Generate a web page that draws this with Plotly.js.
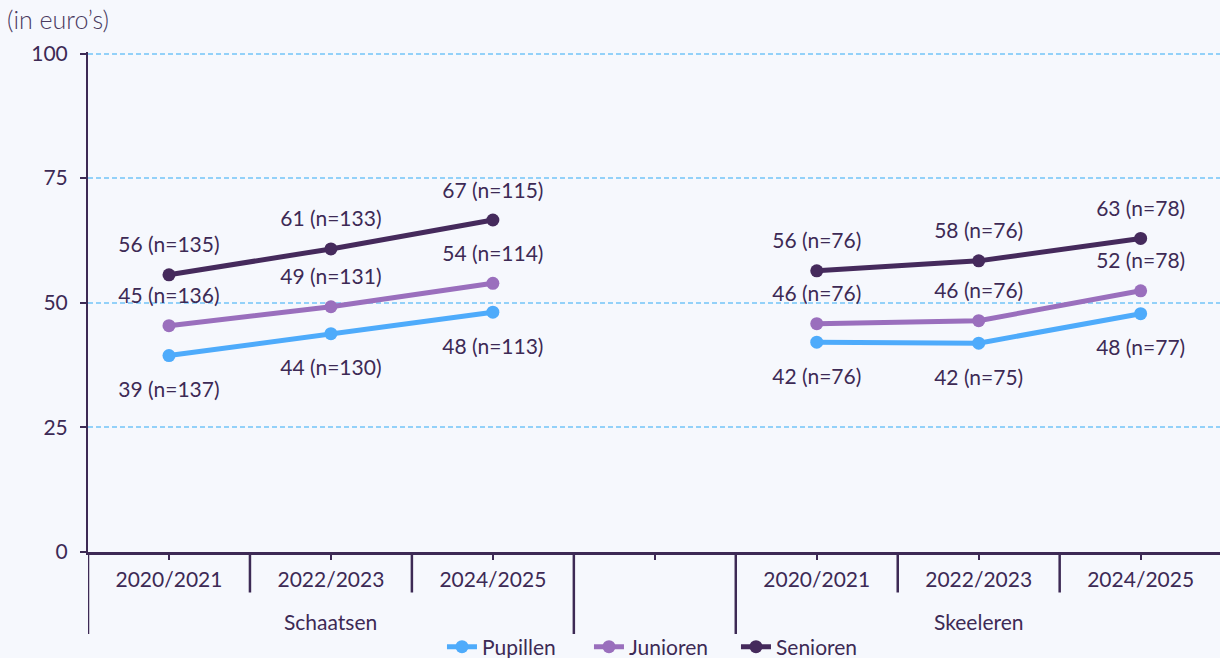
<!DOCTYPE html>
<html><head><meta charset="utf-8">
<script src="https://cdn.plot.ly/plotly-3.0.1.min.js"></script>
<style>html,body{margin:0;padding:0;background:#f6f8fd;}#chart{width:1220px;height:658px;}</style>
</head><body><div id="chart"></div>
<script>
// ---- data ----
const sports = ['Schaatsen', 'Skeeleren'];
const seasons = ['2020/2021', '2022/2023', '2024/2025'];
const gapLabel = ' ';
const seriesNames = ['Pupillen', 'Junioren', 'Senioren'];
const pupillenValues = [39.4, 43.8, 48.1, 42.1, 41.9, 47.8];
const juniorenValues = [45.4, 49.2, 53.9, 45.8, 46.4, 52.4];
const seniorenValues = [55.6, 60.8, 66.6, 56.4, 58.4, 62.9];
const pupillenN = [137, 130, 113, 76, 75, 77];
const juniorenN = [136, 131, 114, 76, 76, 78];
const seniorenN = [135, 133, 115, 76, 76, 78];
const seriesColors = ['#4eabfb', '#9a6fbd', '#452a5c'];
const yTicks = [0, 25, 50, 75, 100];

// ---- build ----
const keys = [], tickTexts = [], groupCentres = [], innerBounds = [], outerBounds = [-0.5];
sports.forEach((s, i) => {
  if (i > 0) { keys.push('gap'); tickTexts.push(gapLabel); outerBounds.push(keys.length - 0.5); }
  const first = keys.length;
  seasons.forEach((se, j) => {
    keys.push(s + '|' + se); tickTexts.push(se);
    if (j > 0) innerBounds.push(keys.length - 1.5);
  });
  groupCentres.push({name: s, pos: (first + keys.length - 1) / 2});
  outerBounds.push(keys.length - 0.5);
});
function withGap(arr) { const a = arr.slice(0, 3); a.push(null); return a.concat(arr.slice(3)); }
const allValues = [pupillenValues, juniorenValues, seniorenValues];
const allN = [pupillenN, juniorenN, seniorenN];
const textColor = '#3d2a55';
const font = 'Lato, "Open Sans", sans-serif';
const fs = 21;

const traces = [];
allValues.forEach((vals, k) => {
  traces.push({
    type: 'scatter', mode: 'lines+markers', name: seriesNames[k],
    x: keys, y: withGap(vals), connectgaps: false,
    line: {color: seriesColors[k], width: 5},
    marker: {color: seriesColors[k], size: 13},
    hoverinfo: 'skip', cliponaxis: false
  });
});
allValues.forEach((vals, k) => {
  const labels = withGap(vals.map((v, i) => Math.round(v) + ' (n=' + allN[k][i] + ')'));
  const below = k === 0;
  traces.push({
    type: 'scatter', mode: 'markers+text', showlegend: false,
    x: keys, y: withGap(vals), text: labels,
    textposition: below ? 'bottom center' : 'top center',
    textfont: {family: font, size: fs, color: textColor},
    marker: {size: below ? 40 : 26, color: 'rgba(0,0,0,0)'},
    hoverinfo: 'skip', cliponaxis: false
  });
});

const xr = [-0.5, 6.49];
const shapes = [];
innerBounds.forEach(b => shapes.push({type: 'line', xref: 'x', yref: 'paper', x0: b, x1: b, y0: 0, y1: -0.081,
  line: {color: textColor, width: 2.5}}));
outerBounds.forEach(b => shapes.push({type: 'line', xref: 'x', yref: 'paper', x0: b, x1: b, y0: 0, y1: -0.164,
  line: {color: textColor, width: 2.5}}));

const annotations = [{text: '(in euro’s)', xref: 'paper', yref: 'paper', x: -0.0725, y: 1.066,
  xanchor: 'left', yanchor: 'middle', showarrow: false, borderpad: 0,
  font: {family: font, size: 25, color: '#4a3a60', weight: 300}}];
groupCentres.forEach(g => annotations.push({text: g.name, xref: 'x', yref: 'paper', x: g.pos, y: -0.139,
  xanchor: 'center', yanchor: 'middle', showarrow: false, font: {family: font, size: fs, color: textColor}}));

const layout = {
  width: 1220, height: 658,
  paper_bgcolor: '#f6f8fd', plot_bgcolor: '#f6f8fd',
  margin: {l: 88, r: 0, t: 52, b: 106, autoexpand: false},
  font: {family: font, color: textColor, size: fs},
  showlegend: true,
  legend: {orientation: 'h', x: 0.3127, xanchor: 'left', y: -0.19, yanchor: 'middle',
    entrywidth: 102, entrywidthmode: 'pixels',
    font: {family: font, size: fs, color: textColor}, bgcolor: 'rgba(0,0,0,0)', itemwidth: 30},
  xaxis: {type: 'category', categoryorder: 'array', categoryarray: keys,
    tickvals: keys, ticktext: tickTexts,
    range: xr, autorange: false, showline: true, linecolor: textColor, linewidth: 2.5,
    ticks: 'outside', ticklen: 5, tickwidth: 2, tickcolor: textColor, ticklabelstandoff: 2,
    showgrid: false, zeroline: false,
    tickfont: {family: font, size: fs, color: textColor}},
  yaxis: {range: [0, 100.3], autorange: false, tickvals: yTicks, ticks: 'outside', ticklen: 6, tickwidth: 2,
    tickcolor: textColor, showline: true, linecolor: textColor, linewidth: 2, ticklabelstandoff: 8,
    showgrid: true, gridcolor: '#93d1f9', griddash: '5px,3px', gridwidth: 2, zeroline: false,
    tickfont: {family: font, size: fs, color: textColor}},
  shapes: shapes,
  annotations: annotations
};
Plotly.newPlot('chart', traces, layout, {displayModeBar: false, staticPlot: true});
</script></body></html>
